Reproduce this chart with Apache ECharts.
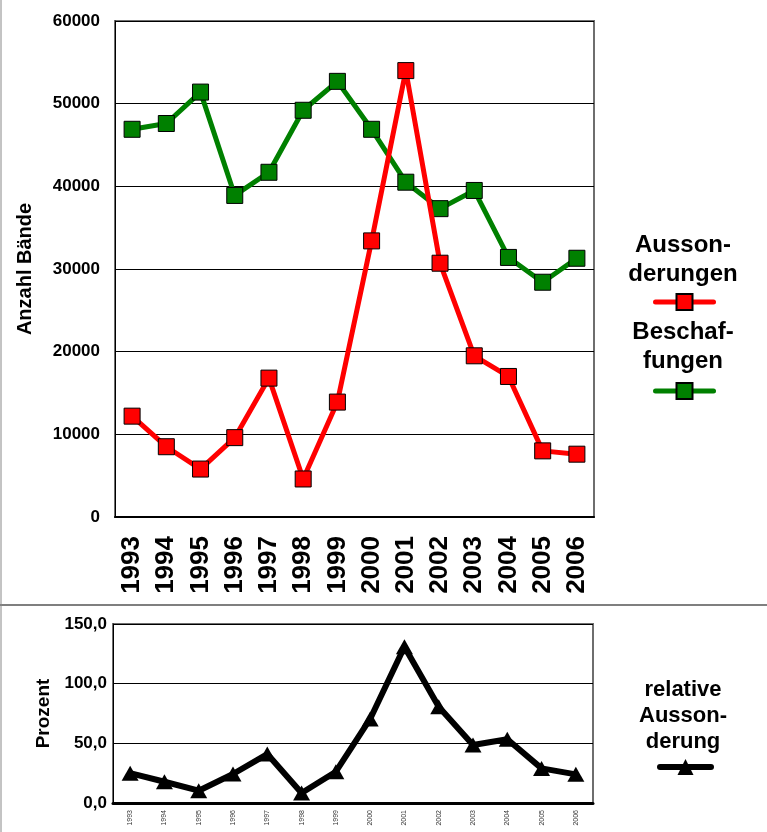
<!DOCTYPE html>
<html>
<head>
<meta charset="utf-8">
<title>Aussonderungen und Beschaffungen</title>
<script src="https://cdn.jsdelivr.net/npm/echarts@6/dist/echarts.min.js"></script>
<style>
  html, body { margin: 0; padding: 0; background: #fff; }
  #main { width: 767px; height: 832px; }
</style>
</head>
<body>
<div id="main"></div>
<script>
// Jahre (Kategorien)
var years = ['1993', '1994', '1995', '1996', '1997', '1998', '1999', '2000', '2001', '2002', '2003', '2004', '2005', '2006'];
// Anzahl Bände
var aussonderungen = [12200, 8500, 5800, 9600, 16800, 4600, 13900, 33400, 54000, 30700, 19500, 17000, 8000, 7600];
var beschaffungen = [46900, 47600, 51400, 38900, 41700, 49200, 52700, 46900, 40500, 37300, 39500, 31400, 28400, 31300];
// relative Aussonderung in Prozent
var relativ = [25.0, 17.8, 10.3, 24.3, 41.0, 8.4, 26.2, 70.4, 131.0, 80.7, 48.6, 53.4, 29.0, 24.0];

var font = '"Liberation Sans", Arial, Helvetica, sans-serif';

var myChart = echarts.init(document.getElementById('main'));

var option = {
  animation: false,
  backgroundColor: '#fff',
  textStyle: { fontFamily: font },
  title: [
    {
      text: 'Ausson-\nderungen',
      left: 683, top: 231, textAlign: 'center', padding: 0,
      textStyle: { fontSize: 24, fontWeight: 'bold', lineHeight: 29, color: '#000', fontFamily: font }
    },
    {
      text: 'Beschaf-\nfungen',
      left: 683, top: 318, textAlign: 'center', padding: 0,
      textStyle: { fontSize: 24, fontWeight: 'bold', lineHeight: 29, color: '#000', fontFamily: font }
    },
    {
      text: 'relative\nAusson-\nderung',
      left: 683, top: 677, textAlign: 'center', padding: 0,
      textStyle: { fontSize: 22, fontWeight: 'bold', lineHeight: 26, color: '#000', fontFamily: font }
    }
  ],
  legend: [
    {
      data: ['Aussonderungen'], left: 653, top: 292, padding: 0,
      itemWidth: 58, itemHeight: 20, formatter: function () { return ''; },
      lineStyle: { width: 5, cap: 'round' }
    },
    {
      data: ['Beschaffungen'], left: 653, top: 381, padding: 0,
      itemWidth: 58, itemHeight: 20, formatter: function () { return ''; },
      lineStyle: { width: 5, cap: 'round' }
    },
    {
      data: ['relative Aussonderung'], left: 657, top: 757, padding: 0,
      itemWidth: 51, itemHeight: 20, formatter: function () { return ''; },
      lineStyle: { width: 6, cap: 'round' }
    }
  ],
  grid: [
    { left: 115, top: 21, width: 479, height: 496, show: true, borderColor: '#6e6e6e', borderWidth: 2 },
    { left: 113, top: 624, width: 480, height: 179, show: true, borderColor: '#6e6e6e', borderWidth: 2 }
  ],
  xAxis: [
    {
      gridIndex: 0, type: 'category', data: years, boundaryGap: true,
      axisLine: { lineStyle: { color: '#000', width: 2 } },
      axisTick: { show: false },
      axisLabel: { interval: 0, rotate: 90, margin: 19, fontSize: 26, fontWeight: 'bold', color: '#000', fontFamily: font }
    },
    {
      gridIndex: 1, type: 'category', data: years, boundaryGap: true,
      axisLine: { lineStyle: { color: '#000', width: 3 } },
      axisTick: { show: false },
      axisLabel: { interval: 0, rotate: 90, margin: 7, fontSize: 7, color: '#333', fontFamily: font }
    }
  ],
  yAxis: [
    {
      gridIndex: 0, type: 'value', min: 0, max: 60000, interval: 10000,
      name: 'Anzahl Bände', nameLocation: 'middle', nameRotate: 90, nameGap: 80,
      nameTextStyle: { fontSize: 20, fontWeight: 'bold', color: '#000', fontFamily: font },
      axisLine: { show: true, lineStyle: { color: '#000', width: 1 } },
      axisTick: { show: false },
      splitLine: { lineStyle: { color: '#000', width: 1 } },
      axisLabel: {
        margin: 15, fontSize: 17, fontWeight: 'bold', color: '#000', fontFamily: font,
        formatter: function (v) { return String(v); }
      }
    },
    {
      gridIndex: 1, type: 'value', min: 0, max: 150, interval: 50,
      name: 'Prozent', nameLocation: 'middle', nameRotate: 90, nameGap: 58,
      nameTextStyle: { fontSize: 19, fontWeight: 'bold', color: '#000', fontFamily: font },
      axisLine: { show: true, lineStyle: { color: '#000', width: 1 } },
      axisTick: { show: false },
      splitLine: { lineStyle: { color: '#000', width: 1 } },
      axisLabel: {
        margin: 6, fontSize: 17, fontWeight: 'bold', color: '#000', fontFamily: font,
        formatter: function (v) { return v.toFixed(1).replace('.', ','); }
      }
    }
  ],
  series: [
    {
      name: 'Aussonderungen', type: 'line', xAxisIndex: 0, yAxisIndex: 0,
      data: aussonderungen,
      symbol: 'rect', symbolSize: 16,
      lineStyle: { color: '#ff0000', width: 5 },
      itemStyle: { color: '#ff0000', borderColor: '#000', borderWidth: 1 },
      z: 3
    },
    {
      name: 'Beschaffungen', type: 'line', xAxisIndex: 0, yAxisIndex: 0,
      data: beschaffungen,
      symbol: 'rect', symbolSize: 16,
      lineStyle: { color: '#008000', width: 5 },
      itemStyle: { color: '#008000', borderColor: '#000', borderWidth: 1 },
      z: 2
    },
    {
      name: 'relative Aussonderung', type: 'line', xAxisIndex: 1, yAxisIndex: 1,
      data: relativ,
      symbol: 'triangle', symbolSize: [17, 15],
      lineStyle: { color: '#000', width: 6 },
      itemStyle: { color: '#000' }
    }
  ],
  graphic: [
    // Trennlinie zwischen den beiden Diagrammen
    { type: 'line', shape: { x1: 0, y1: 605, x2: 767, y2: 605 }, style: { stroke: '#555', lineWidth: 1.5 } },
    // linker Rand
    { type: 'line', shape: { x1: 1, y1: 0, x2: 1, y2: 832 }, style: { stroke: '#888', lineWidth: 1 } }
  ]
};

myChart.setOption(option);
</script>
</body>
</html>
